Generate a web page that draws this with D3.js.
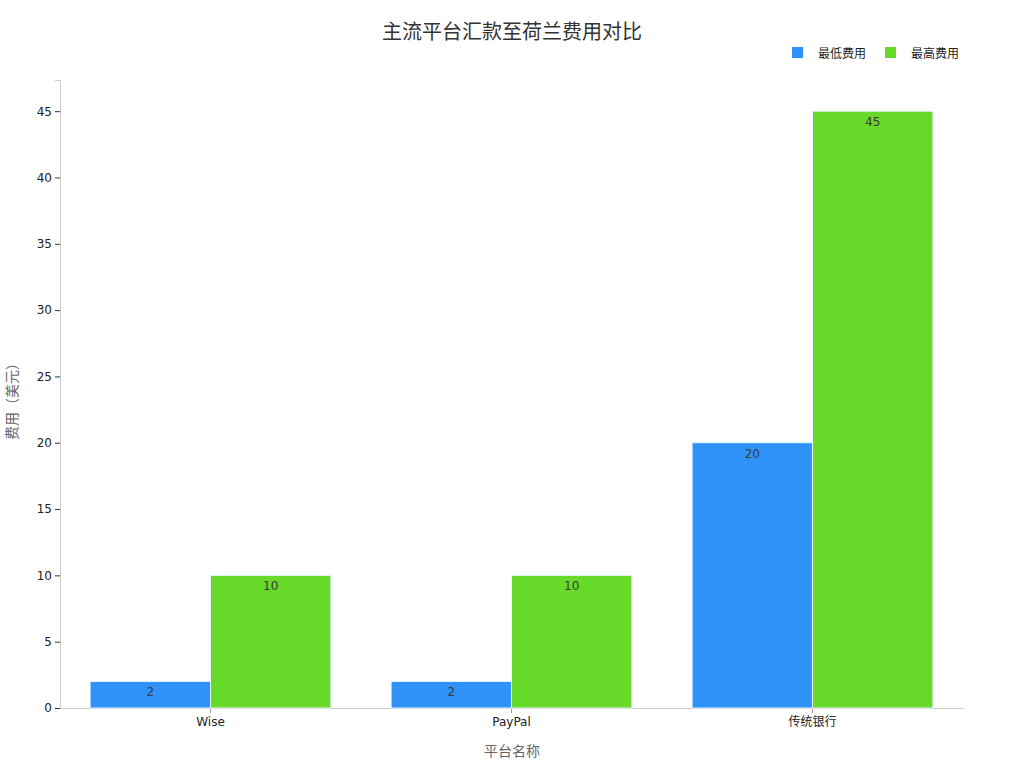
<!DOCTYPE html>
<html>
<head>
<meta charset="utf-8">
<script src="https://cdn.jsdelivr.net/npm/d3@7"></script>
<style>
  body { margin: 0; background: #fff; }
  text { font-family: "DejaVu Sans", "Noto Sans CJK SC", sans-serif; }
</style>
</head>
<body>
<script>
const platforms = ["Wise", "PayPal", "传统银行"];
const minFee = [2, 2, 20];
const maxFee = [10, 10, 45];
const seriesNames = ["最低费用", "最高费用"];
const colors = ["#2f92f9", "#66d929"];

const w = 1024;
const h = 768;
const margin = {top: 80, right: 61, bottom: 60, left: 60};

const svg = d3.select("body")
    .append("svg")
    .attr("width", w)
    .attr("height", h);

const x0 = d3.scaleBand()
    .domain(platforms)
    .range([margin.left, w - margin.right])
    .paddingInner(0.2)
    .paddingOuter(0.1);

const x1 = d3.scaleBand()
    .domain(seriesNames)
    .range([0, x0.bandwidth()]);

const y = d3.scaleLinear()
    .domain([0, 47.35])
    .range([h - margin.bottom, margin.top]);

// axes
const yAxis = svg.append("g")
    .attr("transform", "translate(" + margin.left + ",0)")
    .call(d3.axisLeft(y).tickValues(d3.range(0, 46, 5)).tickSize(5).tickPadding(3));
yAxis.select(".domain").attr("stroke", "#cccccc");
yAxis.selectAll(".tick line").attr("stroke", "#333");
yAxis.selectAll(".tick text").attr("fill", "#222").style("font-size", "12px");

const xAxis = svg.append("g")
    .attr("transform", "translate(0," + (h - margin.bottom) + ")")
    .call(d3.axisBottom(x0).tickSize(5).tickPadding(4).tickSizeOuter(0));
xAxis.select(".domain").attr("stroke", "#cccccc");
xAxis.selectAll(".tick line").attr("stroke", "#999");
xAxis.selectAll(".tick text").attr("fill", "#222").style("font-size", "12px");

// bars
const rows = platforms.map((p, i) => ({platform: p, values: [minFee[i], maxFee[i]]}));

const groups = svg.selectAll(".group")
    .data(rows)
    .enter()
    .append("g")
    .attr("class", "group")
    .attr("transform", d => "translate(" + x0(d.platform) + ",0)");

groups.selectAll("rect")
    .data(d => d.values.map((v, j) => ({name: seriesNames[j], value: v, j: j})))
    .enter()
    .append("rect")
    .attr("x", d => x1(d.name))
    .attr("y", d => y(d.value))
    .attr("width", x1.bandwidth())
    .attr("height", d => y(0) - y(d.value))
    .attr("fill", d => colors[d.j])
    .attr("stroke", "#e8f4ff")
    .attr("stroke-width", 1);

groups.selectAll(".label")
    .data(d => d.values.map((v, j) => ({name: seriesNames[j], value: v})))
    .enter()
    .append("text")
    .attr("class", "label")
    .attr("x", d => x1(d.name) + x1.bandwidth() / 2)
    .attr("y", d => y(d.value) + 15)
    .attr("text-anchor", "middle")
    .attr("fill", "#3a3a3a")
    .style("font-size", "12px")
    .text(d => d.value);

// title
svg.append("text")
    .attr("x", w / 2)
    .attr("y", 39)
    .attr("text-anchor", "middle")
    .attr("fill", "#333")
    .style("font-size", "20px")
    .text("主流平台汇款至荷兰费用对比");

// axis titles
svg.append("text")
    .attr("x", 512)
    .attr("y", 756)
    .attr("text-anchor", "middle")
    .attr("fill", "#666")
    .style("font-size", "14px")
    .text("平台名称");

svg.append("text")
    .attr("transform", "translate(17,398) rotate(-90)")
    .attr("text-anchor", "middle")
    .attr("fill", "#666")
    .style("font-size", "14px")
    .text("费用（美元）");

// legend
const legendX = [792, 885];
const legend = svg.selectAll(".legend")
    .data(seriesNames)
    .enter()
    .append("g")
    .attr("class", "legend")
    .attr("transform", (d, i) => "translate(" + legendX[i] + ",47)");

legend.append("rect")
    .attr("width", 11)
    .attr("height", 11)
    .attr("fill", (d, i) => colors[i]);

legend.append("text")
    .attr("x", 26)
    .attr("y", 11)
    .attr("fill", "#222")
    .style("font-size", "12px")
    .text(d => d);
</script>
</body>
</html>
